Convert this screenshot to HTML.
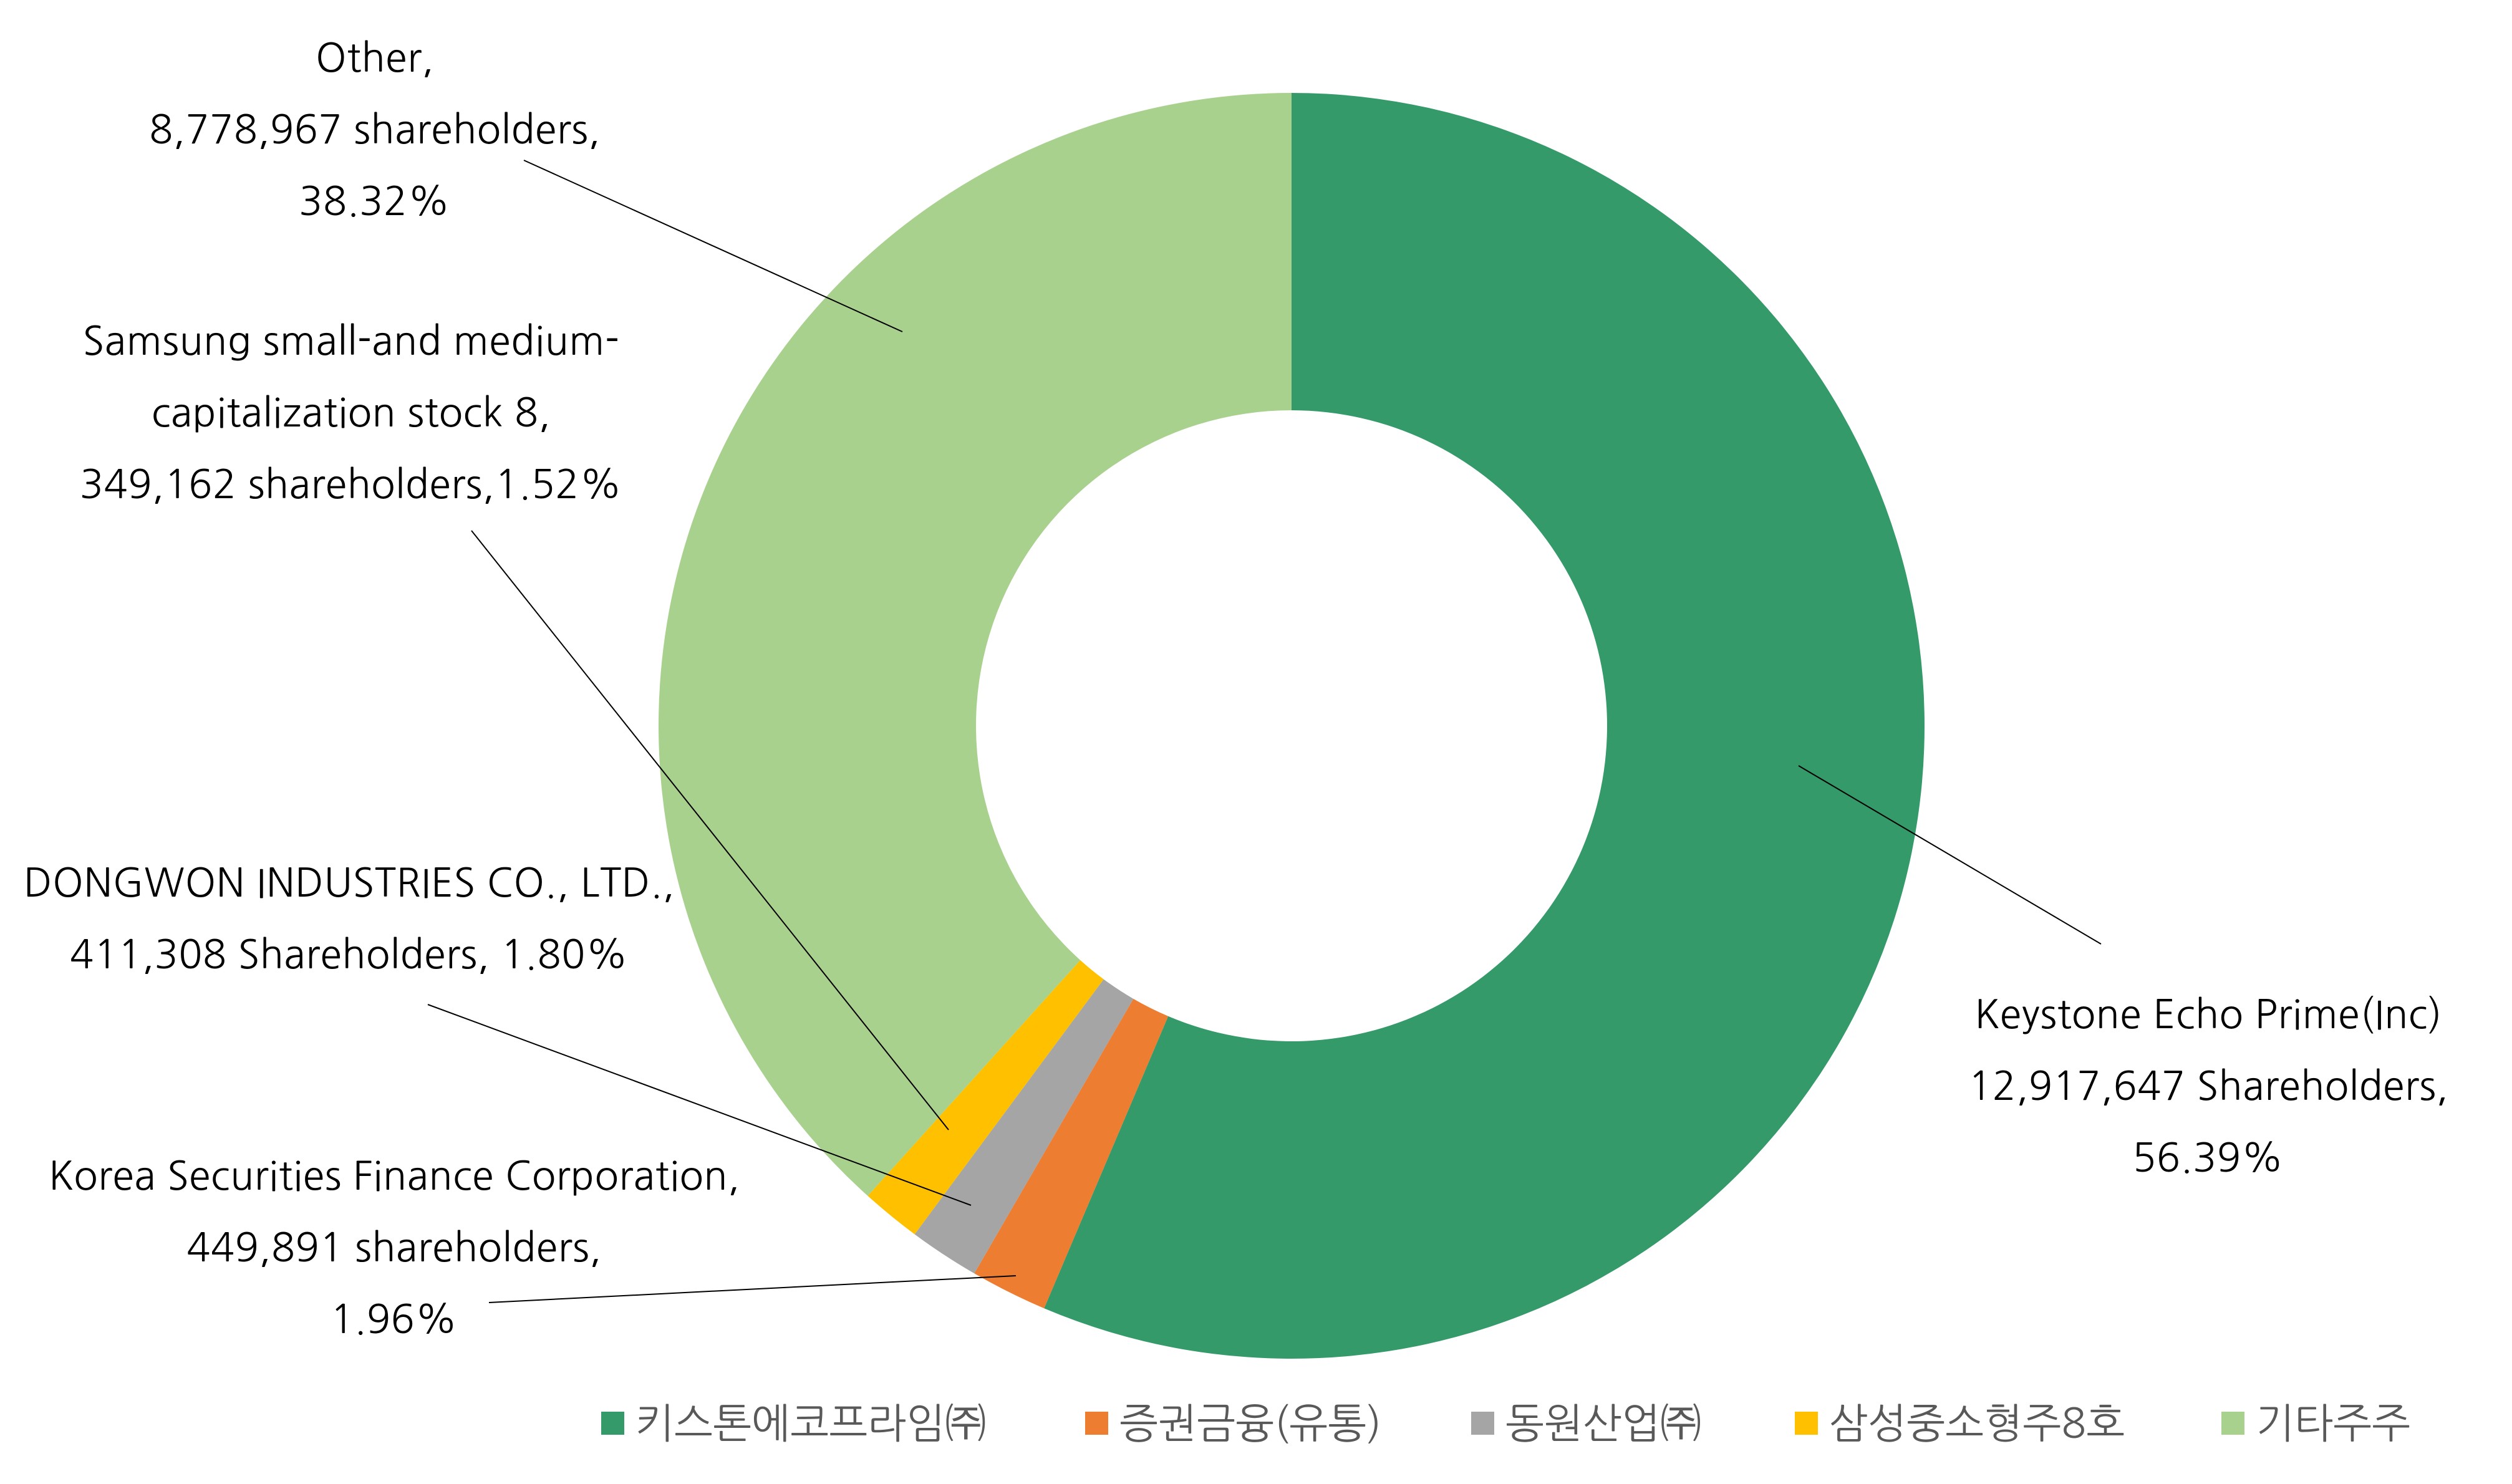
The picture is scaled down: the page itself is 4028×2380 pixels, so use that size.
<!DOCTYPE html>
<html><head><meta charset="utf-8"><style>
html,body{margin:0;padding:0;background:#fff;}
svg{display:block;}
text{font-family:"NanumGothic","Liberation Sans","Noto Sans CJK KR",sans-serif;}
</style></head><body>
<svg id="chart" width="4028" height="2380" viewBox="0 0 4028 2380">
<g id="slices"></g>
<g id="leaders"></g>
<g id="labels"></g>
<g id="legend"></g>
</svg>
<script>
const categories = ["키스톤에코프라임㈜","증권금융(유통)","동원산업㈜","삼성중소형주8호","기타주주"];
const shares = [12917647, 449891, 411308, 349162, 8778967];
const colors = ["#359A69","#ED7D31","#A5A5A5","#FFC000","#A9D18E"];
const labelLines = [
  ["Keystone Echo Prime(Inc)","12,917,647 Shareholders,","56.39%"],
  ["Korea Securities Finance Corporation,","449,891 shareholders,","1.96%"],
  ["DONGWON INDUSTRIES CO., LTD.,","411,308 Shareholders, 1.80%"],
  ["Samsung small-and medium-","capitalization stock 8,","349,162 shareholders,1.52%"],
  ["Other,","8,778,967 shareholders,","38.32%"]
];
const NS="http://www.w3.org/2000/svg";
const cx=2071, cy=1164, R=1015, r=506;
const total=shares.reduce((a,b)=>a+b,0);
function pt(rad,a){return [cx+rad*Math.sin(a), cy-rad*Math.cos(a)];}
const sg=document.getElementById('slices');
let acc=0;
shares.forEach((v,i)=>{
  const a0=acc/total*2*Math.PI; acc+=v; const a1=acc/total*2*Math.PI;
  const large=(a1-a0)>Math.PI?1:0;
  const [x0,y0]=pt(R,a0),[x1,y1]=pt(R,a1),[x2,y2]=pt(r,a1),[x3,y3]=pt(r,a0);
  const p=document.createElementNS(NS,'path');
  p.setAttribute('d',`M${x0},${y0}A${R},${R} 0 ${large} 1 ${x1},${y1}L${x2},${y2}A${r},${r} 0 ${large} 0 ${x3},${y3}Z`);
  p.setAttribute('fill',colors[i]);
  
  
  sg.appendChild(p);
});
const labelPos=[[3541,1627],[632,1886],[560,1416],[563,547],[601,93]];
const leaderA=[[3369,1514],[784,2089],[686,1611],[756,851],[840,257]];
const leaderB=[[2884,1228],[1629,2046],[1557,1933],[1521,1812],[1447,532]];
const lg=document.getElementById('leaders'), tg=document.getElementById('labels');
labelLines.forEach((lines,i)=>{
  const l=document.createElementNS(NS,'line');
  l.setAttribute('x1',leaderA[i][0]);l.setAttribute('y1',leaderA[i][1]);
  l.setAttribute('x2',leaderB[i][0]);l.setAttribute('y2',leaderB[i][1]);
  l.setAttribute('stroke','#000');l.setAttribute('stroke-width','2');
  
  
  lg.appendChild(l);
  lines.forEach((s,j)=>{
    const t=document.createElementNS(NS,'text');
    t.setAttribute('x',labelPos[i][0]);t.setAttribute('y',labelPos[i][1]+j*115+22);
    t.setAttribute('text-anchor','middle');t.setAttribute('font-size','63');t.setAttribute('fill','#000');
    t.setAttribute('letter-spacing','0.5');
    t.textContent=s;
    
    
    tg.appendChild(t);
  });
});
const legX=[964,1740,2359,2878,3562];
const leg=document.getElementById('legend');
categories.forEach((c,i)=>{
  const g=document.createElementNS(NS,'g');
  
  
  const rc=document.createElementNS(NS,'rect');
  rc.setAttribute('x',legX[i]);rc.setAttribute('y',2264);rc.setAttribute('width',37);rc.setAttribute('height',37);
  rc.setAttribute('fill',colors[i]);
  
  
  const t=document.createElementNS(NS,'text');
  t.setAttribute('x',legX[i]+55);t.setAttribute('y',2306);t.setAttribute('font-size','66');t.setAttribute('fill','#595959');
  t.textContent=c;
  
  
  g.appendChild(rc);g.appendChild(t);leg.appendChild(g);
});
</script>
</body></html>
